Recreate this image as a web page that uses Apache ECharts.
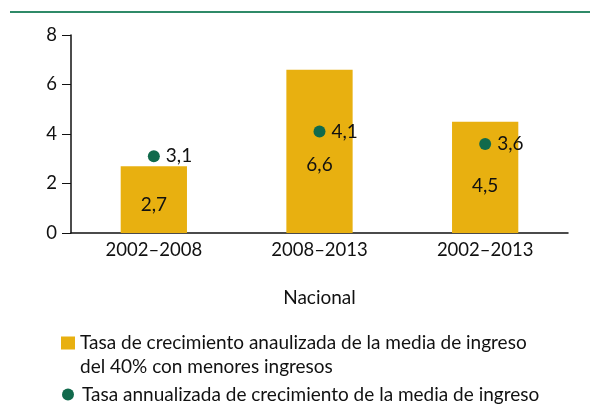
<!DOCTYPE html>
<html>
<head>
<meta charset="UTF-8">
<title>Tasa de crecimiento</title>
<script src="https://cdn.jsdelivr.net/npm/echarts@6/dist/echarts.min.js"></script>
<style>
    html, body { margin: 0; padding: 0; background: #fff; }
    #main { width: 590px; height: 406px; }
</style>
</head>
<body>
<div id="main"></div>
<script>
    // datos
    var categories = ['2002–2008', '2008–2013', '2002–2013'];
    var barValues = [2.7, 6.6, 4.5];
    var dotValues = [3.1, 4.1, 3.6];
    var barName = 'Tasa de crecimiento anaulizada de la media de ingreso del 40% con menores ingresos';
    var dotName = 'Tasa annualizada de crecimiento de la media de ingreso';

    var fontFam = 'Lato, "Open Sans", sans-serif';
    function coma(v) { return String(v).replace('.', ','); }

    var chart = echarts.init(document.getElementById('main'));
    chart.setOption({
        animation: false,
        textStyle: { fontFamily: fontFam, color: '#111' },
        graphic: [{
            type: 'line',
            shape: { x1: 10, y1: 12, x2: 590, y2: 12 },
            style: { stroke: '#2f8a68', lineWidth: 2 }
        }],
        grid: { left: 71, right: 22, top: 35, bottom: 173 },
        xAxis: {
            type: 'category',
            data: categories,
            name: 'Nacional',
            nameLocation: 'middle',
            nameGap: 55,
            nameTextStyle: { fontSize: 19, color: '#111', fontFamily: fontFam },
            axisLine: { lineStyle: { color: '#111', width: 1.5 } },
            axisTick: { show: false },
            axisLabel: { fontSize: 18.5, color: '#111', margin: 8, fontFamily: fontFam }
        },
        yAxis: {
            type: 'value',
            min: 0, max: 8, interval: 2,
            axisLine: { show: true, lineStyle: { color: '#111', width: 1.5 } },
            axisTick: { show: true, length: 9, lineStyle: { color: '#111' } },
            splitLine: { show: false },
            axisLabel: { fontSize: 18.5, color: '#111', margin: 14, fontFamily: fontFam }
        },
        legend: [{
            // icono con un punto invisible abajo para alinearlo con la primera linea
            left: 56, top: 326,
            itemWidth: 14, itemHeight: 37,
            data: [{ name: barName, icon: 'path://M0,0L14,0L14,13L0,13Z M0,37L0,37L0,37Z' }],
            formatter: function () {
                return 'Tasa de crecimiento anaulizada de la media de ingreso\ndel 40% con menores ingresos';
            },
            textStyle: { fontSize: 19, color: '#111', lineHeight: 24, fontFamily: fontFam },
            selectedMode: false
        }, {
            left: 57, top: 380,
            itemWidth: 12, itemHeight: 12,
            data: [{ name: dotName, icon: 'circle', itemStyle: { opacity: 1 } }],
            textStyle: { fontSize: 19, color: '#111', padding: [0, 0, 0, 3], fontFamily: fontFam },
            selectedMode: false
        }],
        series: [{
            name: barName,
            type: 'bar',
            data: barValues,
            barWidth: '40%',
            itemStyle: { color: '#e8b010' },
            label: {
                show: true,
                position: ['50%', '58%'],
                align: 'center',
                verticalAlign: 'middle',
                fontSize: 19,
                color: '#111',
                fontFamily: fontFam,
                formatter: function (p) { return coma(p.value); }
            }
        }, {
            name: dotName,
            type: 'scatter',
            data: dotValues,
            symbolSize: 12,
            itemStyle: { color: '#116a4c', opacity: 1 },
            label: {
                show: true,
                position: 'right',
                distance: 6,
                fontSize: 19,
                color: '#111',
                fontFamily: fontFam,
                formatter: function (p) { return coma(p.value); }
            }
        }]
    });
</script>
</body>
</html>
